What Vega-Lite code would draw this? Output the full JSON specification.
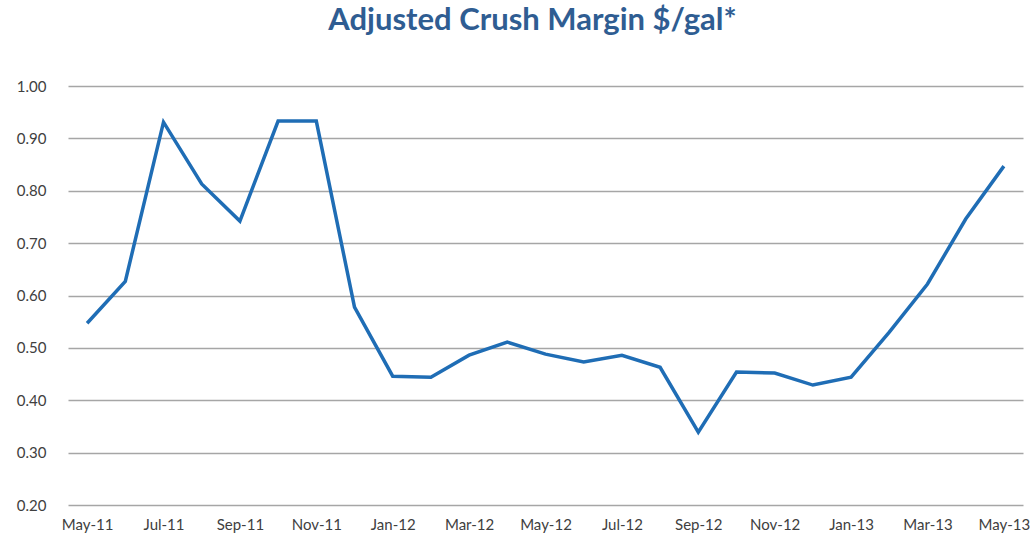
{
  "$schema": "https://vega.github.io/schema/vega-lite/v6.json",
  "width": 955,
  "height": 419,
  "autosize": "none",
  "padding": {"left": 68, "top": 86, "right": 13, "bottom": 40},
  "background": "white",
  "title": {
    "text": "Adjusted Crush Margin $/gal*",
    "font": "Lato",
    "fontSize": 31,
    "fontWeight": "bold",
    "color": "#2F5D92",
    "anchor": "middle",
    "dx": -13,
    "offset": 42
  },
  "config": {"view": {"stroke": null}},
  "data": {
    "values": [
      {"month": "May-11", "margin": 0.547},
      {"month": "Jun-11", "margin": 0.627},
      {"month": "Jul-11", "margin": 0.931},
      {"month": "Aug-11", "margin": 0.813},
      {"month": "Sep-11", "margin": 0.742},
      {"month": "Oct-11", "margin": 0.933},
      {"month": "Nov-11", "margin": 0.933},
      {"month": "Dec-11", "margin": 0.578},
      {"month": "Jan-12", "margin": 0.446},
      {"month": "Feb-12", "margin": 0.444},
      {"month": "Mar-12", "margin": 0.486},
      {"month": "Apr-12", "margin": 0.511},
      {"month": "May-12", "margin": 0.488},
      {"month": "Jun-12", "margin": 0.473},
      {"month": "Jul-12", "margin": 0.486},
      {"month": "Aug-12", "margin": 0.463},
      {"month": "Sep-12", "margin": 0.339},
      {"month": "Oct-12", "margin": 0.454},
      {"month": "Nov-12", "margin": 0.452},
      {"month": "Dec-12", "margin": 0.429},
      {"month": "Jan-13", "margin": 0.444},
      {"month": "Feb-13", "margin": 0.530},
      {"month": "Mar-13", "margin": 0.622},
      {"month": "Apr-13", "margin": 0.746},
      {"month": "May-13", "margin": 0.847}
    ]
  },
  "mark": {"type": "line", "color": "#1F6DB5", "strokeWidth": 3.5, "strokeJoin": "miter"},
  "encoding": {
    "x": {
      "field": "month",
      "type": "ordinal",
      "sort": null,
      "scale": {"type": "point", "padding": 0.5},
      "axis": {
        "title": null,
        "values": ["May-11", "Jul-11", "Sep-11", "Nov-11", "Jan-12", "Mar-12", "May-12", "Jul-12", "Sep-12", "Nov-12", "Jan-13", "Mar-13", "May-13"],
        "labelAngle": 0,
        "labelFont": "Lato",
        "labelFontSize": 15,
        "labelColor": "#404040",
        "labelPadding": 12,
        "ticks": false,
        "domain": false,
        "grid": false
      }
    },
    "y": {
      "field": "margin",
      "type": "quantitative",
      "scale": {"domain": [0.2, 1.0], "nice": false, "zero": false},
      "axis": {
        "title": null,
        "values": [0.2, 0.3, 0.4, 0.5, 0.6, 0.7, 0.8, 0.9, 1.0],
        "format": ".2f",
        "labelFont": "Lato",
        "labelFontSize": 15,
        "labelColor": "#404040",
        "labelPadding": 22,
        "ticks": false,
        "domain": false,
        "grid": true,
        "gridColor": "#A6A6A6",
        "gridWidth": 1.5
      }
    }
  }
}
